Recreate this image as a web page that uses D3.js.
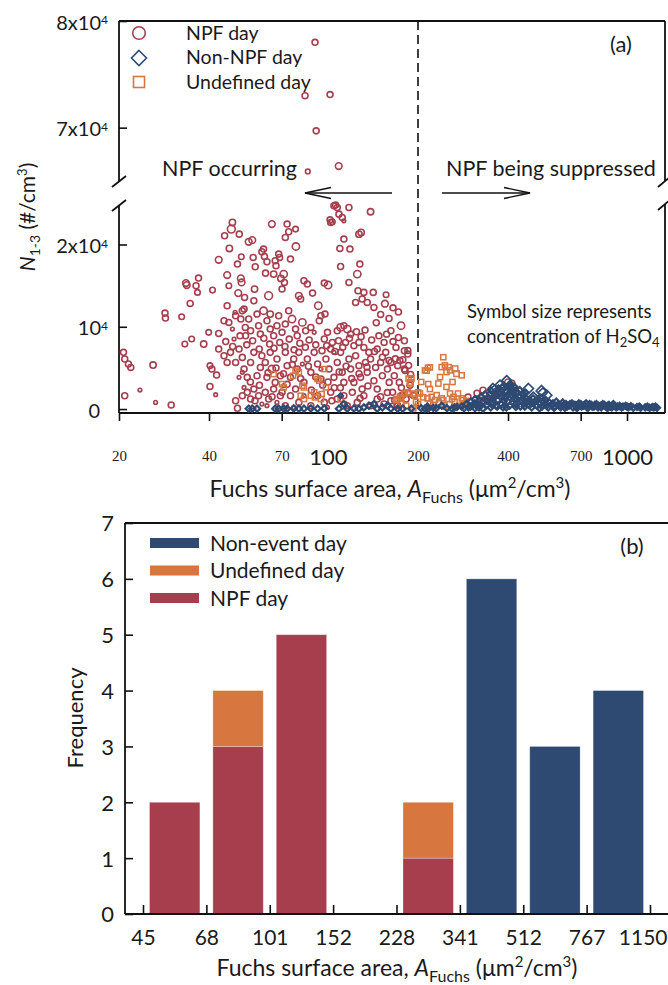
<!DOCTYPE html>
<html>
<head>
<meta charset="utf-8">
<script src="https://cdn.jsdelivr.net/npm/d3@7"></script>
<style>
body { margin: 0; background: #fff; }
text { font-family: Lato, "Open Sans", sans-serif; fill: #1a1a1a; }
</style>
</head>
<body>
<script>
// [A_Fuchs (um2/cm3), N1-3 (#/cm3), H2SO4 (1e6 cm-3)]
var npfDays = [
  [20.7,6890,4],[20.9,6080,4],[21.5,5470,4],[21.9,5060,4],[20.9,1620,4],[23.5,2310,1.5],[26.0,5350,4.5],[26.5,810,1.5],[29.9,490,4],
  [28.5,11660,4],[28.6,11060,4],[32.4,11220,3.5],[33.5,15310,5],[33.7,15070,5],[34.6,12840,4],[36.2,14990,4],[36.6,14180,3.5],[36.9,15920,4],
  [33.2,7900,3.5],[35.0,8510,3.5],[38.4,7900,4.5],[39.9,9320,3.5],[41.1,14460,3.5],[40.3,5270,3.5],[40.9,4860,4],[42.4,4130,4],[40.3,2750,4],
  [42.1,1740,1.5],[43.1,9190,4],[43.1,18140,5],[45.1,21060,4],[46.0,16280,5],[46.0,12560,4],[46.6,14990,3.5],[46.8,19520,4.5],[47.5,21870,7],
  [47.9,22680,4.5],[49.8,17620,4],[50.1,14090,5],[50.5,21260,4],[51.1,15880,5],[51.4,15390,5],[51.3,18510,3.5],[52.4,12150,4],[52.6,13570,4],
  [52.9,9920,4],[54.3,20330,5],[55.8,20530,5],[56.2,18430,4],[56.8,14580,4.5],[57.1,17290,4],[56.5,13160,4],[60.1,19120,4],[60.9,19440,4],
  [61.3,18550,4],[61.8,16520,4],[62.5,17900,4],[63.3,13770,7],[64.1,11540,4.5],[64.9,22480,5],[65.8,16400,4.5],[66.6,18020,4],[67.0,17420,4],
  [68.4,18830,4],[68.9,18430,4],[69.6,15880,4.5],[70.2,14580,4],[71.1,16400,6],[71.5,15390,4],[72.0,20860,4],[73.0,22480,4],[73.9,21550,4],
  [74.9,18230,4],[77.9,21870,3.5],[78.1,19760,6],[79.9,13770,5],[81.0,13370,4],[83.1,15590,4],[85.3,15190,4],[88.8,14090,4],[92.8,12560,6],
  [97.2,15310,4],[97.7,11540,4],[100.1,15070,6],[101.6,23000,4],[102.1,22680,4],[103.4,22760,3.5],[104.7,24700,4],[106.0,24790,4],[107.4,24500,4],
  [108.8,23690,4],[111.6,23290,4],[113.0,22880,1.5],[109.6,19520,4],[110.2,17330,4],[113.0,20660,4],[117.5,24500,4],[118.4,19440,4],[117.5,15390,4],
  [126.9,21260,4.5],[129.1,21470,4.5],[127.8,17620,4],[125.3,16400,6],[126.0,14380,4],[131.8,14180,4],[138.8,23980,4.5],[141.7,14180,4],[156.4,13890,3.5],
  [123.7,12960,4],[130.1,13370,4],[135.3,12960,4],[142.4,12350,4],
  [44.9,10730,4],[46.6,10530,4],[47.9,9720,1.5],[49.1,11340,4],[51.1,10940,4],[51.7,11950,4],[53.0,8910,4],[54.3,10940,4],[55.1,9520,4],
  [57.9,11540,4],[58.6,10130,4],[59.4,9110,4],[60.9,11950,6],[62.5,10730,4],[64.1,9720,4],[65.8,8910,4],[67.5,10130,4],[68.4,11340,4],
  [70.2,9320,4],[72.0,10330,4],[73.9,11950,4],[75.8,10940,6],[77.9,9720,4],[78.9,8910,4],[82.1,10530,6],[84.2,9520,4],[87.6,9920,4],
  [89.9,9320,1.5],[93.5,10730,4],[94.7,11340,4],[97.2,8510,4],[99.6,9320,4],[103.4,8100,4],[107.4,9520,4],[110.2,9920,6],[113.0,10130,4],
  [116.0,9720,6],[119.0,9110,4],[122.1,7700,4],[126.9,8100,4],[131.8,7490,4],[137.0,6890,4],[146.1,7290,4],[154.0,8100,4],[162.3,9520,4],
  [168.8,7490,4],[175.5,10130,6],[180.1,8300,4],[180.1,7090,4],[184.9,6680,4],
  [43.1,7290,4],[44.9,6480,4],[46.0,5670,4],[47.2,6890,4],[48.5,8510,1.5],[49.1,5670,4],[50.4,7290,4],[51.7,6280,4],[52.4,4860,4],
  [53.7,3850,4],[55.1,5670,4],[56.5,6890,4],[57.9,4050,4],[59.4,5060,4],[60.1,6480,4],[61.7,5670,4],[62.5,3850,4],[64.1,6890,4],
  [64.9,4860,6],[66.6,3240,4],[67.5,6080,4],[69.3,4050,4],[70.2,2030,4],[72.0,6890,4],[73.0,5270,4],[74.9,3850,4],[76.8,6080,4],
  [78.9,4860,4],[79.9,6890,4],[82.1,5470,1.5],[83.1,3240,4],[85.3,6080,4],[87.6,4460,4],[89.9,6890,4],[92.3,5470,4],[94.7,3650,4],
  [98.4,6080,4],[100.8,4860,4],[102.1,7290,4],[104.7,3850,4],[107.4,5670,4],[110.2,6890,4],[111.6,4460,4],[113.0,3240,4],[114.5,8100,4],
  [117.5,6080,4],[119.0,4860,4],[122.1,3240,4],[123.7,6480,4],[126.9,5270,4],[128.5,3850,4],[130.1,2430,4],[133.5,5670,4],[135.3,4460,4],
  [138.8,6080,4],[142.4,3440,4],[144.3,5060,4],[146.1,2430,4],[150.0,5670,4],[152.0,4050,4],[156.0,6890,4],[158.1,4860,4],[160.2,3240,4],
  [162.3,5670,4],[164.4,2030,4],[166.6,4050,4],[171.0,5270,4],[173.2,3240,4],[175.5,1620,4],[180.1,4860,4],
  [49.1,1010,4],[49.8,100,4],[51.7,1620,4],[52.4,2630,1.5],[53.7,2030,4],[55.1,1220,4],[56.5,2430,4],[58.6,1620,4],[60.1,610,1.5],
  [61.7,2030,4],[63.3,1220,4],[65.8,2430,4],[67.5,810,1.5],[69.3,1620,4],[72.0,410,4],[74.9,1620,4],[77.9,2430,4],[79.9,810,4],
  [83.1,1620,1.5],[87.6,410,4],[92.3,1620,4],[97.2,810,4],[102.1,2030,4],[107.4,1220,4],[113.0,1620,4],[116.0,410,4],[120.6,2030,4],
  [125.3,810,4],[131.8,1620,4],[138.8,410,4],[146.1,1220,4],[154.0,610,4],[162.3,1010,4],[171.0,410,4],[182.5,1220,4],[62.5,410,1.5],
  [76.8,200,1.5],[99.6,200,1.5],[48.9,11750,1.5],[50.4,3850,1.5],[51.7,4460,1.5],[71.1,2840,1.5],[94.7,4860,1.5],[104.7,6890,1.5],
  [174,5900,4],[181,4700,4],[188,2890,4],[193,1690,4],[185,7110,4],[178,1690,4],[170,480,4],
  [45.5,8200,4],[48,7600,4],[50.8,8900,4],[53.5,7800,4],[56,8300,4],[58.9,7300,4],[61,8600,4],[63.8,7900,4],[66,7400,4],
  [69,8100,4],[71.8,7600,4],[74.2,8500,4],[77,7200,4],[80.5,8000,4],[84,7500,4],[86.5,8400,4],[91,7800,4],[95.5,7100,4],
  [99,7700,4],[105.5,7000,4],[108.5,8300,4],[112,7500,4],[118,8600,4],[124.5,9400,4],[129,8800,4],[133,9600,4],[140,8400,4],
  [148,8900,4],[157,9100,4],[165,8200,4],[172,8700,4],[178,6000,4],[168,6100,4],[160,5900,4],[152,6300,4],[143,7000,4],
  [135,5100,4],[127,4300,4],[120,3700,4],[115,5200,4],[109,4500,4],[105,2600,4],[100,3300,4],[96,2900,4],[91,3900,4],
  [86,5200,4],[81,3700,4],[76,5400,4],[71,4300,4],[67,5000,4],[63,4400,4],[59,2900,4],[55,3300,4],[57,1000,4],
  [65,1500,4],[73,3000,4],[88,2300,4],[103,1000,4],[110,2600,4],[128,1300,4],[136,2800,4],[150,1500,4],[158,2000,4],
  [167,1100,4],[176,2600,4],[185,1900,4],[189,4200,4],[186,5300,4],
  [150,11500,4],[160,11000,4],[145,10500,4],[155,12800,5],[165,12300,4],[172,11800,4],
  [294,1450,4],[315,1930,4],[330,2290,4],[348,1690,4],[322,1085,4],[400,3250,5],[412,3130,4],[382,2530,4],[367,1690,4],[340,1085,4],[948,150,1.5],
  [90.5,78000,4],[83.8,73000,4],[101.6,73100,4],[91.3,69700,4],[85.6,65900,2.5],[108.6,66400,5]
];

var undefinedDays = [
  [65.8,4250,3],[70.2,3040,3],[71.1,2630,3],[76.4,4050,3],[77.9,4660,3],[79.9,4460,3],[82.1,2840,3],[83.1,2630,3],[81.0,1620,3],
  [87.6,1620,3],[89.9,2030,3],[92.3,3650,3],[93.5,3440,3],[94.7,1220,3],[97.2,4860,3],[98.4,2630,3],[95.2,1820,3],[90.4,1420,3],
  [83.1,1220,3],[110.2,1220,3],[113.0,610,3],[171.0,1220,3],[175.5,1420,3],[180.1,1820,3],[184.9,2030,3],[189.9,3730,3.5],[188.8,3240,3.5],
  [195.0,1620,3],[200.2,2030,3],[208.3,1420,3],[213.7,4660,3],[219.2,5060,3],[216.4,3040,3],[219.2,2430,3],[182.5,410,3],[175.5,610,3],[200.2,610,3],
  [186,3700,3],[188,3100,3],[181,1890,3],[193,1890,3],[203,1890,3],[205,3290,3],[211,4700,3],[216,5020,3],[222,1480,3],[231,1690,3],
  [234,3100,3],[237,3890,3],[240,5100,3],[243,6300,3],[246,5300,3],[249,4500,3],[253,5100,3],[256,4700,3],[266,4900,3.5],[269,4300,3.5],
  [280,4100,3],[283,1085,3],[263,1480,3],[243,1085,3],[219,690,3],[197,880,3],[193,80,3],[174,1480,3],[169,1085,3],[176,690,3],
  [249,2690,3],[261,3290,3],[272,1890,3],[256,1890,3],[225,500,3],[235,800,3],[245,300,3],[255,600,3],[265,900,3],[275,400,3],
  [285,700,3],[295,300,3],[290,1000,3],[280,1300,3],[260,1200,3],[240,1300,3],[228,1100,3],[215,1300,3]
];

var nonNpfDays = [
  [54.3,50,2.5],[55.8,50,2.5],[57.9,50,2.5],[66.6,50,2.5],[68.4,50,2.5],[71.1,80,2.5],[73.0,50,2.5],[76.8,80,2.5],[79.9,50,2.5],
  [83.1,50,2.5],[87.6,80,2.5],[92.3,50,2.5],[97.2,80,2.5],[110.2,1620,1.5],[113,610,2.5],[108.8,50,2.5],[116,50,2.5],[122.1,80,2.5],
  [126.9,50,2.5],[131.8,200,2.5],[137,410,2.5],[142.4,610,2.5],[146.1,50,2.5],[152,200,2.5],[158.1,410,2.5],[162.3,50,2.5],[171,50,2.5],
  [177.8,50,2.5],[189.9,50,2.5],[211,50,2.5],[216.4,50,2.5],[205,100,2.5],[215,300,2.5],[230,100,2.5],[260,50,2.5],[270,250,2.5],[285,100,2.5],
  [362,2290,8],[376,2890,7],[411,2690,8],[468,2490,7],[518,2200,8],[539,1690,7],[486,1480,6],[396,3490,6],[356,2530,6],[384,2530,6],[523,2000,6],
  [300,300,2.5],[310,700,2.5],[320,200,2.5],[330,900,2.5],[340,500,2.5],[345,1300,2.5],[350,200,2.5],[355,800,2.5],[360,1600,2.5],
  [365,400,2.5],[370,1100,2.5],[375,1900,2.5],[380,600,2.5],[385,200,2.5],[390,1400,2.5],[395,2100,2.5],[400,900,2.5],[405,400,2.5],
  [410,1700,2.5],[415,2400,2.5],[420,1200,2.5],[425,600,2.5],[430,2000,2.5],[435,1500,2.5],[440,300,2.5],[445,1000,2.5],[450,1800,2.5],
  [455,700,2.5],[460,1300,2.5],[470,500,2.5],[475,1000,2.5],[480,200,2.5],[490,800,2.5],[500,400,2.5],[510,700,2.5],[520,300,2.5],
  [530,600,2.5],[545,200,2.5],[560,500,2.5],[575,300,2.5],[590,600,2.5],[600,200,2.5],[615,500,2.5],[630,300,2.5],[645,600,2.5],
  [660,200,2.5],[675,400,2.5],[690,700,2.5],[705,300,2.5],[720,500,2.5],[735,200,2.5],[750,600,2.5],[765,300,2.5],[780,500,2.5],
  [800,200,2.5],[815,400,2.5],[830,600,2.5],[850,300,2.5],[870,500,2.5],[890,200,2.5],[910,400,2.5],[930,300,2.5],[960,200,2.5],
  [990,400,2.5],[1010,200,2.5],[1050,150,2.5],[1080,250,2.5],[1110,150,2.5],[1150,200,2.5],[1190,150,2.5],[1230,200,2.5],[1260,150,2.5],
  [310,100,2.5],[330,50,2.5],[290,600,2.5],[280,300,2.5],[265,200,2.5],[250,100,2.5],[240,400,2.5],[225,150,2.5],[385,2700,2.5],
  [420,2700,2.5],[405,3000,2.5],[335,1800,2.5],[350,2300,2.5],[362,1900,2.5],[372,2500,2.5],[378,1500,2.5],[388,1000,2.5],[398,1700,2.5],
  [408,2600,2.5],[418,1900,2.5],[428,1200,2.5],[438,2300,2.5],[448,1300,2.5],[458,2000,2.5],[465,900,2.5],[485,1300,2.5],[495,1000,2.5],
  [505,1200,2.5],[515,1400,2.5],[525,900,2.5],[535,1100,2.5],[550,800,2.5],[565,700,2.5],[580,900,2.5],[595,400,2.5],[610,800,2.5],
  [625,600,2.5],[640,400,2.5],[655,700,2.5],[670,500,2.5],[685,300,2.5],[700,600,2.5],[715,400,2.5],[730,700,2.5],[745,400,2.5],
  [760,500,2.5],[775,300,2.5],[790,600,2.5],[805,400,2.5],[820,200,2.5],[840,500,2.5],[860,400,2.5],[880,300,2.5],[900,600,2.5],
  [920,200,2.5],[945,400,2.5],[970,300,2.5],[320,600,2.5],[310,1200,2.5],[300,900,2.5],[295,200,2.5],[305,500,2.5],[315,350,2.5],
  [325,1500,2.5],[340,1000,2.5],[352,600,2.5],[368,300,2.5],[395,200,2.5],[425,250,2.5],[455,300,2.5],[480,700,2.5],[510,100,2.5],
  [540,450,2.5],[570,150,2.5],[620,150,2.5],[680,100,2.5],[740,150,2.5],[860,100,2.5],[1000,300,2.5],[1030,350,2.5],[1100,300,2.5],
  [1170,300,2.5],[1215,250,2.5],[1245,300,2.5]
];

var xTicksA = [20, 40, 70, 100, 200, 400, 700, 1000];
var yTicksUp = [70000, 80000];
var yTicksLow = [0, 10000, 20000];

var binEdges = ["45", "68", "101", "152", "228", "341", "512", "767", "1150"];
var npfFreq = [2, 3, 5, 0, 1, 0, 0, 0];
var undefinedFreq = [0, 1, 0, 0, 1, 0, 0, 0];
var nonEventFreq = [0, 0, 0, 0, 0, 6, 3, 4];
var freqTicks = [0, 1, 2, 3, 4, 5, 6, 7];

var colNpf = "#a63e4e", colUnd = "#d7763f", colNon = "#2e4a73";

var width = 668, height = 985;

var svg = d3.select("body").append("svg")
    .attr("width", width)
    .attr("height", height);

// ---------- panel (a) ----------
var xA = d3.scaleLog().domain([20, 1340]).range([119, 665]);
var yUp = d3.scaleLinear().domain([65000, 80000]).range([181, 21]);
var yLow = d3.scaleLinear().domain([-480, 24800]).range([413, 205]);
var rA = d3.scaleSqrt().domain([0, 10]).range([0, 4.7]);

function yN(v) { return v >= 60000 ? yUp(v) : yLow(v); }

var ga = svg.append("g");

// frame with broken y axis
var frame = [
  [119, 21, 119, 181], [119, 205, 119, 413], [119, 21, 665, 21],
  [665, 21, 665, 181], [665, 204, 665, 413], [119, 413, 665, 413],
  [112, 187, 126, 176], [112, 211, 126, 200], [658, 187, 670, 177], [658, 210, 670, 200]
];
ga.selectAll("line.frame").data(frame).enter().append("line")
    .attr("x1", d => d[0]).attr("y1", d => d[1]).attr("x2", d => d[2]).attr("y2", d => d[3])
    .attr("stroke", "#111").attr("stroke-width", 1.8);

// dashed separation at 200
ga.append("line")
    .attr("x1", xA(200)).attr("x2", xA(200)).attr("y1", 21).attr("y2", 413)
    .attr("stroke", "#111").attr("stroke-width", 1.6).attr("stroke-dasharray", "9,5");

// points
ga.append("g").selectAll("circle").data(npfDays).enter().append("circle")
    .attr("cx", d => xA(d[0])).attr("cy", d => yN(d[1])).attr("r", d => rA(d[2]))
    .attr("fill", "none").attr("stroke", colNpf).attr("stroke-width", 1.6);

ga.append("g").selectAll("rect").data(undefinedDays).enter().append("rect")
    .attr("x", d => xA(d[0]) - rA(d[2]))
    .attr("y", d => yN(d[1]) - rA(d[2]))
    .attr("width", d => 2 * rA(d[2])).attr("height", d => 2 * rA(d[2]))
    .attr("fill", "none").attr("stroke", colUnd).attr("stroke-width", 1.5);

ga.append("g").selectAll("path").data(nonNpfDays).enter().append("path")
    .attr("transform", d => "translate(" + xA(d[0]) + "," + yN(d[1]) + ")")
    .attr("d", function (d) {
        var h = rA(d[2]) * 1.3;
        return "M0," + (-h) + "L" + h + ",0L0," + h + "L" + (-h) + ",0Z";
    })
    .attr("fill", "none").attr("stroke", colNon).attr("stroke-width", d => d[2] > 5 ? 1.6 : 2.2);

// x axis
var axA = ga.append("g").attr("transform", "translate(0,413)")
    .call(d3.axisBottom(xA).tickValues(xTicksA).tickSizeInner(8).tickSizeOuter(0).tickFormat(d3.format("d")));
axA.select(".domain").remove();
axA.selectAll(".tick line").attr("stroke", "#111").attr("stroke-width", 1.6);
axA.selectAll(".tick text")
    .attr("dy", 0)
    .attr("y", d => (d == 100 || d == 1000) ? 52 : 48)
    .style("font-family", d => (d == 100 || d == 1000) ? "Lato, sans-serif" : "'Liberation Serif', serif")
    .style("font-size", d => (d == 100 || d == 1000) ? "22px" : "15px")
    .attr("fill", "#1a1a1a");

function sciLabel(sel) {
    sel.each(function (d) {
        var t = d3.select(this).text("");
        if (d == 0) { t.text("0"); t.attr("x", -19); return; }
        var m = d / 10000;
        t.append("tspan").text(d == 10000 ? "10" : (m + "x10"));
        t.append("tspan").text("4").attr("dy", "-0.45em").style("font-size", "12px");
    });
}

[[yUp, yTicksUp], [yLow, yTicksLow]].forEach(function (p) {
    var ay = ga.append("g").attr("transform", "translate(119,0)")
        .call(d3.axisRight(p[0]).tickValues(p[1]).tickSizeInner(8).tickSizeOuter(0));
    ay.select(".domain").remove();
    ay.selectAll(".tick line").attr("stroke", "#111").attr("stroke-width", 1.6);
    ay.selectAll(".tick text")
        .attr("x", -11).attr("dy", "0.4em")
        .attr("text-anchor", "end")
        .style("font-size", "20px").attr("fill", "#1a1a1a")
        .call(sciLabel);
});

function fuchsTitle(g, x, y) {
    var t = g.append("text").attr("x", x).attr("y", y).attr("text-anchor", "middle").style("font-size", "23px");
    t.append("tspan").text("Fuchs surface area, ");
    t.append("tspan").text("A").style("font-style", "italic");
    t.append("tspan").text("Fuchs").attr("dy", 6).style("font-size", "16px");
    t.append("tspan").text(" (\u03bcm").attr("dy", -6);
    t.append("tspan").text("2").attr("dy", -9).style("font-size", "15px");
    t.append("tspan").text("/cm").attr("dy", 9);
    t.append("tspan").text("3").attr("dy", -9).style("font-size", "15px");
    t.append("tspan").text(")").attr("dy", 9);
}

// axis titles
fuchsTitle(ga, 390, 497);

var yT = ga.append("text").attr("transform", "translate(35,217) rotate(-90)")
    .attr("text-anchor", "middle").style("font-size", "21px");
yT.append("tspan").text("N").style("font-style", "italic");
yT.append("tspan").text("1-3").attr("dy", 5).style("font-size", "14px");
yT.append("tspan").text(" (#/cm").attr("dy", -5);
yT.append("tspan").text("3").attr("dy", -8).style("font-size", "13px");
yT.append("tspan").text(")").attr("dy", 8);

// legend (a)
ga.append("circle").attr("cx", 139).attr("cy", 33).attr("r", 6.3)
    .attr("fill", "none").attr("stroke", colNpf).attr("stroke-width", 1.6);
ga.append("path").attr("transform", "translate(139,58)").attr("d", "M0,-7.5L7.5,0L0,7.5L-7.5,0Z")
    .attr("fill", "none").attr("stroke", colNon).attr("stroke-width", 1.6);
ga.append("rect").attr("x", 133.5).attr("y", 76.5).attr("width", 11).attr("height", 11)
    .attr("fill", "none").attr("stroke", colUnd).attr("stroke-width", 1.6);
ga.selectAll("text.leg").data(["NPF day", "Non-NPF day", "Undefined day"]).enter().append("text")
    .attr("x", 186).attr("y", (d, i) => 39.5 + i * 24.5).style("font-size", "19.5px").text(d => d);

ga.append("text").attr("x", 621).attr("y", 52).attr("text-anchor", "middle").style("font-size", "22px").text("(a)");

// annotations
ga.append("text").attr("x", 162).attr("y", 176).style("font-size", "21.5px").text("NPF occurring");
ga.append("text").attr("x", 446).attr("y", 176).style("font-size", "21.5px").text("NPF being suppressed");
var arrows = [[392, 305], [442, 530]];
arrows.forEach(function (a) {
    var dir = a[1] > a[0] ? -1 : 1;
    ga.append("line").attr("x1", a[0]).attr("x2", a[1]).attr("y1", 193).attr("y2", 193)
        .attr("stroke", "#111").attr("stroke-width", 1.4);
    ga.append("path")
        .attr("d", "M" + (a[1] + dir * 26) + ",187.5L" + a[1] + ",193L" + (a[1] + dir * 26) + ",198.5")
        .attr("fill", "none").attr("stroke", "#111").attr("stroke-width", 1.4);
});

var note = ga.append("text").attr("x", 467).attr("y", 318).style("font-size", "18.5px");
note.append("tspan").text("Symbol size represents");
var n2 = ga.append("text").attr("x", 467).attr("y", 343).style("font-size", "18.5px");
n2.append("tspan").text("concentration of H");
n2.append("tspan").text("2").attr("dy", 4).style("font-size", "13px");
n2.append("tspan").text("SO").attr("dy", -4);
n2.append("tspan").text("4").attr("dy", 4).style("font-size", "13px");

// ---------- panel (b) ----------
var xB = d3.scaleLinear().domain([0, 8]).range([143, 650]);
var yB = d3.scaleLinear().domain([0, 7]).range([914, 523]);

var gb = svg.append("g");

var table = npfFreq.map(function (v, i) {
    return { bin: i, npf: v, und: undefinedFreq[i], non: nonEventFreq[i] };
});
var stack = d3.stack().keys(["npf", "und", "non"])(table);
var colB = { npf: colNpf, und: colUnd, non: colNon };

gb.selectAll("g.layer").data(stack).enter().append("g")
    .attr("fill", d => colB[d.key])
    .selectAll("rect").data(d => d.filter(s => s[1] > s[0])).enter().append("rect")
    .attr("x", d => xB(d.data.bin) + 6.5)
    .attr("width", d => xB(d.data.bin + 1) - xB(d.data.bin) - 13)
    .attr("y", d => yB(d[1]))
    .attr("height", d => yB(d[0]) - yB(d[1]))
    .attr("stroke", "#fff").attr("stroke-opacity", 0.35).attr("stroke-width", 0.8);

var frameB = [[125, 523, 668, 523], [125, 523, 125, 914], [125, 914, 668, 914]];
gb.selectAll("line.frame").data(frameB).enter().append("line")
    .attr("x1", d => d[0]).attr("y1", d => d[1]).attr("x2", d => d[2]).attr("y2", d => d[3])
    .attr("stroke", "#111").attr("stroke-width", 1.8);

var axB = gb.append("g").attr("transform", "translate(0,914)")
    .call(d3.axisBottom(xB).tickValues(d3.range(binEdges.length)).tickFormat(i => binEdges[i])
        .tickSizeInner(-9).tickSizeOuter(0).tickPadding(31));
axB.select(".domain").remove();
axB.selectAll(".tick line").attr("stroke", "#111").attr("stroke-width", 1.6);
axB.selectAll(".tick text").attr("dy", 0).style("font-size", "21px").attr("fill", "#1a1a1a")
    .filter(i => i == binEdges.length - 1)
    .attr("text-anchor", "end").attr("x", 667 - xB(binEdges.length - 1));

var ayB = gb.append("g").attr("transform", "translate(125,0)")
    .call(d3.axisRight(yB).tickValues(freqTicks).tickFormat(d3.format("d")).tickSizeInner(8).tickSizeOuter(0));
ayB.select(".domain").remove();
ayB.selectAll(".tick line").attr("stroke", "#111").attr("stroke-width", 1.6);
ayB.selectAll(".tick text").attr("x", -11).attr("dy", "0.36em").attr("text-anchor", "end")
    .style("font-size", "22px").attr("fill", "#1a1a1a");

gb.append("text").attr("transform", "translate(83,718) rotate(-90)").attr("text-anchor", "middle")
    .style("font-size", "22px").text("Frequency");

fuchsTitle(gb, 397, 976);

// legend (b)
var legB = [["Non-event day", colNon], ["Undefined day", colUnd], ["NPF day", colNpf]];
var lg = gb.selectAll("g.legb").data(legB).enter().append("g")
    .attr("transform", (d, i) => "translate(150," + (543 + i * 27.5) + ")");
lg.append("rect").attr("x", 0).attr("y", -5).attr("width", 49).attr("height", 10).attr("fill", d => d[1]);
lg.append("text").attr("x", 60).attr("y", 7.5).style("font-size", "21px").text(d => d[0]);

gb.append("text").attr("x", 632).attr("y", 554).attr("text-anchor", "middle").style("font-size", "22px").text("(b)");
</script>
</body>
</html>
